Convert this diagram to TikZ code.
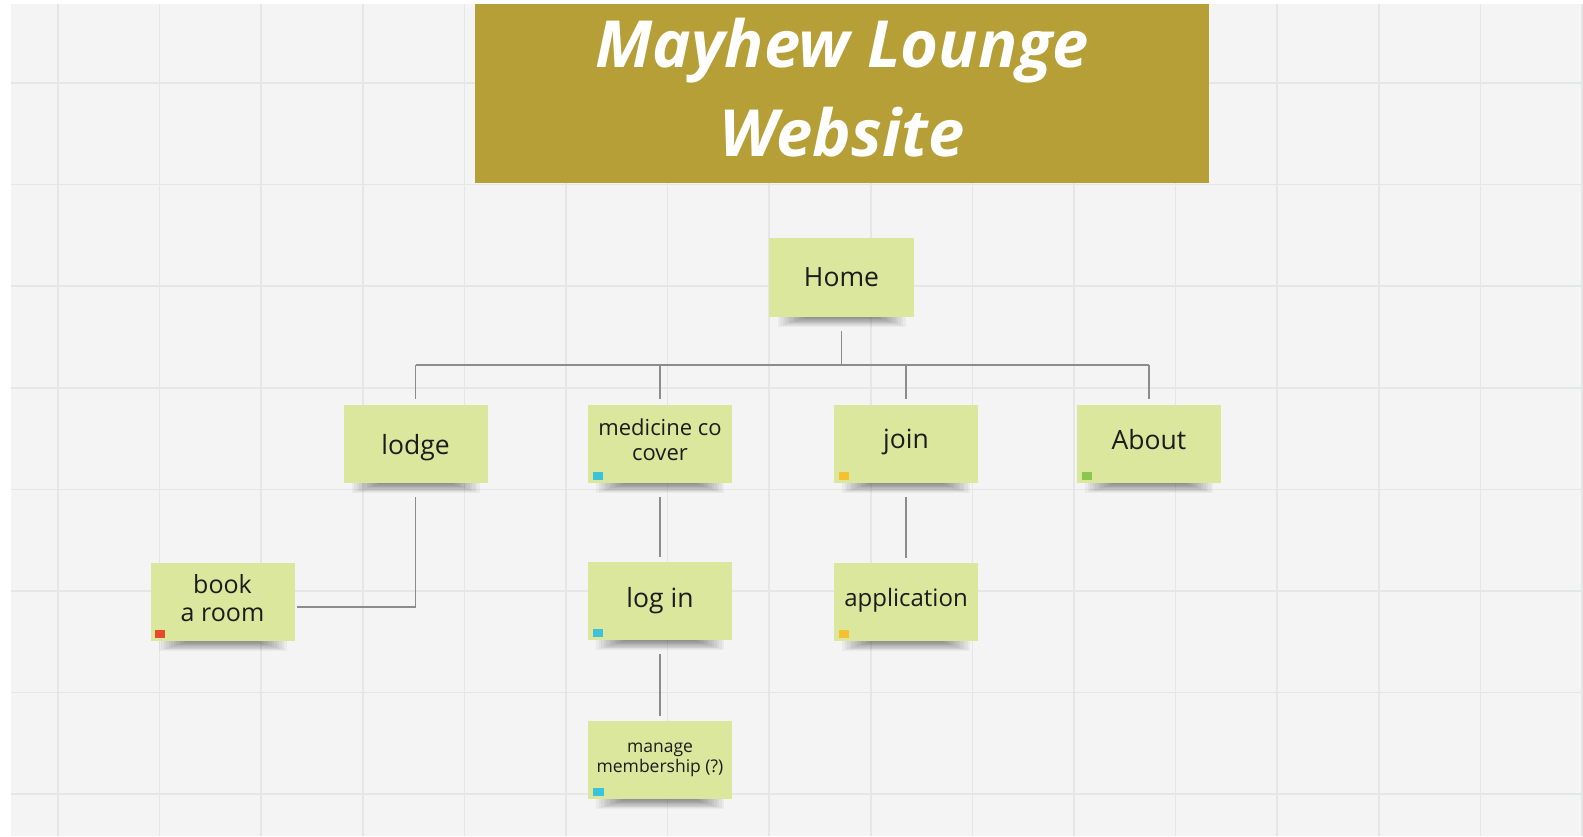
\documentclass[tikz,border=0pt]{standalone}
\usepackage{fontspec}
\setmainfont{Open Sans}
\usetikzlibrary{calc}
\definecolor{bgc}{HTML}{F4F4F5}
\definecolor{gridc}{HTML}{E5E6E8}
\definecolor{titlec}{HTML}{B59F36}
\definecolor{notec}{HTML}{DBE79C}
\definecolor{linec}{HTML}{8C8C8C}
\definecolor{tagcyan}{HTML}{3DC3D9}
\definecolor{tagyellow}{HTML}{F4C22F}
\definecolor{taggreen}{HTML}{8DC64C}
\definecolor{tagred}{HTML}{E8492B}
\definecolor{textc}{HTML}{1C1C1C}
\tikzset{
  note/.style={fill=notec, minimum width=144pt, minimum height=78pt, inner sep=0pt},
  notetext/.style={text=textc, align=center, inner sep=0pt},
  titletext/.style={text=white, inner sep=0pt, anchor=base, font=\fontsize{65}{89}\selectfont\bfseries\itshape},
  conn/.style={draw=linec, line width=1.3pt},
  gridline/.style={draw=gridc, line width=1.6pt},
}
\newcommand{\noteshadow}[2]{%
  \foreach \i in {0,...,11}{%
    \fill[black, opacity=0.04] ({#1-64+2.5*\i},{#2+34}) rectangle ({#1+64-2.5*\i},{#2+49-0.8*\i});
  }%
}
\begin{document}
\begin{tikzpicture}[x=1pt,y=-1pt]
\useasboundingbox (0,0) rectangle (1583,836);
\fill[white] (0,0) rectangle (1583,836);
\fill[bgc] (11,4) rectangle (1583,836);
\foreach \k in {0,...,15} \draw[gridline] ({58+101.6*\k},4) -- ({58+101.6*\k},836);
\foreach \k in {0,...,7} \draw[gridline] (11,{83+101.6*\k}) -- (1583,{83+101.6*\k});

% title
\node[fill=titlec, minimum width=734pt, minimum height=179pt, inner sep=0pt] (title) at (842,93.5) {};
\node[titletext] (titleA) at (842,67) {Mayhew Lounge};
\node[titletext] (titleB) at (842,156) {Website};

% shadows
\noteshadow{841.5}{277.5}
\noteshadow{415.5}{444}
\noteshadow{660}{444}
\noteshadow{906}{444}
\noteshadow{1149}{444}
\noteshadow{222.5}{602}
\noteshadow{660}{601}
\noteshadow{906}{602}
\noteshadow{660}{760}

% notes
\node[note, minimum width=145pt, minimum height=79pt] (home) at (841.5,277.5) {};
\node[note] (lodge) at (415.5,444) {};
\node[note] (med) at (660,444) {};
\node[note] (join) at (906,444) {};
\node[note] (about) at (1149,444) {};
\node[note] (book) at (222.5,602) {};
\node[note] (login) at (660,601) {};
\node[note] (app) at (906,602) {};
\node[note] (manage) at (660,760) {};

% texts
\node[notetext, font=\fontsize{26.5}{30}\selectfont] (hometext) at ([yshift=0pt]home.center) {Home};
\node[notetext, font=\fontsize{26.5}{30}\selectfont] (lodgetext) at ([yshift=-4pt]lodge.center) {lodge};
\node[notetext, font=\fontsize{22}{25}\selectfont] (medtext) at ([yshift=4pt]med.center) {medicine co\\cover};
\node[notetext, font=\fontsize{26.5}{30}\selectfont] (jointext) at ([yshift=2pt]join.center) {join};
\node[notetext, font=\fontsize{26.5}{30}\selectfont] (abouttext) at ([yshift=4pt]about.center) {About};
\node[notetext, font=\fontsize{25}{28}\selectfont] (booktext) at ([yshift=4pt]book.center) {book\\a room};
\node[notetext, font=\fontsize{26.5}{30}\selectfont] (logintext) at ([yshift=0pt]login.center) {log in};
\node[notetext, font=\fontsize{24}{28}\selectfont] (apptext) at ([yshift=2pt]app.center) {application};
\node[notetext, font=\fontsize{17.5}{20}\selectfont] (managetext) at ([yshift=0pt]manage.center) {manage\\membership (?)};

% tags
\fill[tagcyan] ([xshift=5pt,yshift=3pt]med.south west) rectangle ++(10,-8);
\fill[tagyellow] ([xshift=5pt,yshift=3pt]join.south west) rectangle ++(10,-8);
\fill[taggreen] ([xshift=5pt,yshift=3pt]about.south west) rectangle ++(10,-8);
\fill[tagred] ([xshift=5pt,yshift=3pt]book.south west) rectangle ++(10,-8);
\fill[tagcyan] ([xshift=5pt,yshift=3pt]login.south west) rectangle ++(10,-8);
\fill[tagyellow] ([xshift=5pt,yshift=3pt]app.south west) rectangle ++(10,-8);
\fill[tagcyan] ([xshift=5pt,yshift=3pt]manage.south west) rectangle ++(11,-8);

% connectors
\coordinate (bus) at (0,365);
\draw[conn] ([yshift=-14pt]home.south) -- (home |- bus);
\draw[conn] (lodge |- bus) -- (about |- bus);
\foreach \n in {lodge,med,join,about} \draw[conn] (\n |- bus) -- ([yshift=6pt]\n.north);
\draw[conn] ([yshift=-14pt]lodge.south) |- ([xshift=2pt,yshift=-5pt]book.east);
\draw[conn] ([yshift=-14pt]med.south) -- ([yshift=5pt]login.north);
\draw[conn] ([yshift=-14pt]join.south) -- ([yshift=5pt]app.north);
\draw[conn] ([yshift=-14pt]login.south) -- ([yshift=5pt]manage.north);
\end{tikzpicture}
\end{document}
